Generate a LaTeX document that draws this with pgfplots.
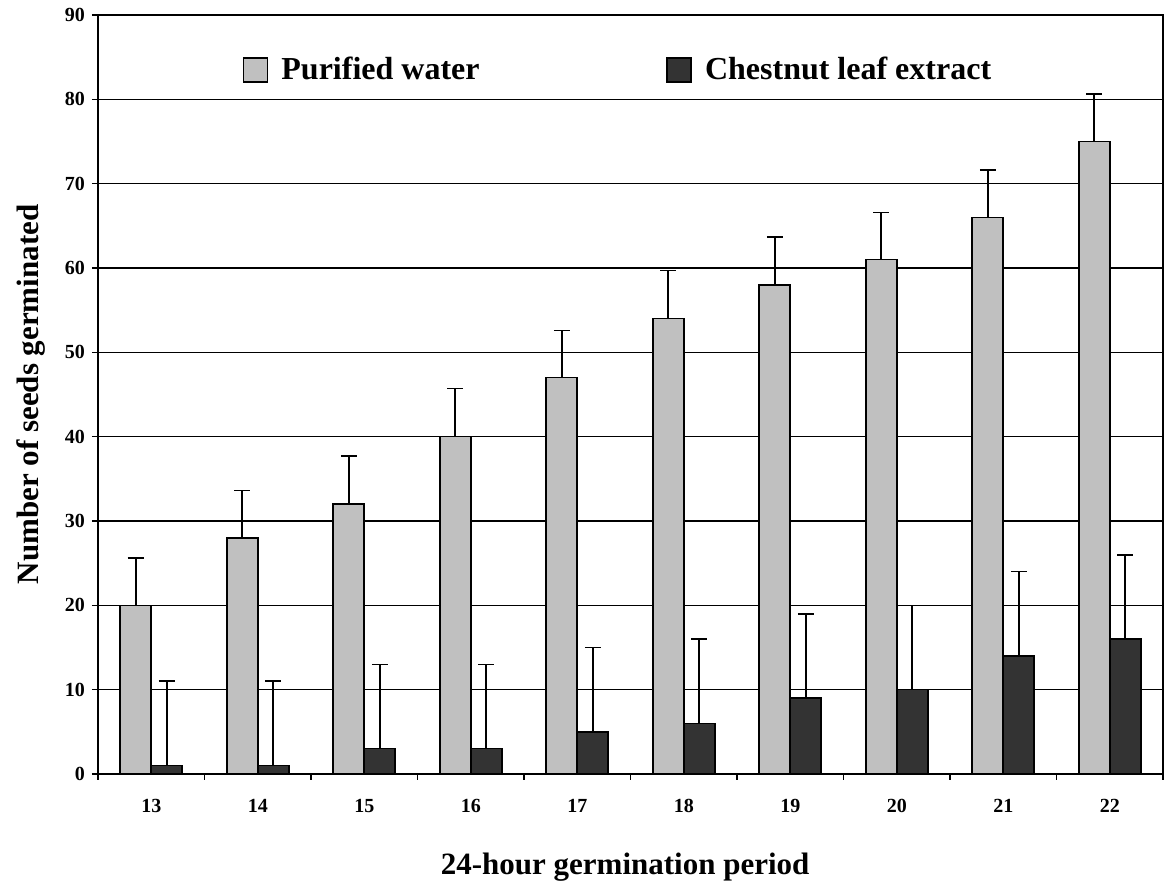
\documentclass[border=0pt]{standalone}
\usepackage{pgfplots}
\pgfplotsset{compat=1.18}
\usepackage{pgfplotstable}
\usepackage{fontspec}
\setmainfont{Liberation Serif}
\definecolor{lightbar}{RGB}{192,192,192}
\definecolor{darkbar}{RGB}{51,51,51}
\pgfplotstableread{
x pw pwe ce cee
0 20 5.6 1 10
1 28 5.6 1 10
2 32 5.7 3 10
3 40 5.7 3 10
4 47 5.6 5 10
5 54 5.7 6 10
6 58 5.7 9 10
7 61 5.6 10 10
8 66 5.6 14 10
9 75 5.6 16 10
}\data
\begin{document}
\begin{tikzpicture}
\begin{axis}[
  name=ax,
  scale only axis, width=532.5pt, height=379.5pt,
  xmin=-0.5, xmax=9.5, ymin=0, ymax=90,
  ybar=0pt, bar width=15.5pt,
  xtick={-0.5,0.5,1.5,2.5,3.5,4.5,5.5,6.5,7.5,8.5,9.5}, xticklabels={},
  extra x ticks={0,1,2,3,4,5,6,7,8,9},
  extra x tick labels={13,14,15,16,17,18,19,20,21,22},
  extra x tick style={major tick length=0pt, grid=none},
  ytick={0,10,20,30,40,50,60,70,80,90},
  xtick pos=bottom, ytick pos=left,
  tick align=outside, major tick length=3pt,
  ymajorgrids, grid style={black, line width=0.7pt},
  axis line style={black, line width=0.9pt},
  tick style={black, line width=0.7pt},
  /pgf/number format/assume math mode=true,
  tick label style={font=\bfseries\fontsize{10}{12}\selectfont},
  xticklabel style={yshift=-9pt},
  xlabel={24-hour germination period},
  xlabel style={at={(axis description cs:0.495,-0.1225)}, anchor=center, font=\bfseries\fontsize{15.5}{18}\selectfont},
  ylabel={Number of seeds germinated},
  ylabel style={at={(axis description cs:-0.063,0.5)}, anchor=center, font=\bfseries\fontsize{15.5}{18}\selectfont},
  legend columns=2,
  legend image code/.code={\draw[#1, draw=black, line width=0.8pt] (0pt,-6pt) rectangle (12pt,6pt);},
  legend style={at={(axis description cs:0.136,0.9275)}, anchor=west, draw=none, fill=none,
    inner sep=0pt, outer sep=0pt, column sep=0pt,
    nodes={inner xsep=6.5pt, inner ysep=0pt, anchor=west},
    font=\bfseries\fontsize{16}{19}\selectfont},
]
\addplot[fill=lightbar, draw=black, line width=0.8pt,
  error bars/.cd, y dir=plus, y explicit,
  error bar style={line width=0.8pt, black},
  error mark options={rotate=90, black, line width=0.8pt, mark size=4pt}]
  table[x=x, y=pw, y error=pwe]{\data};
\addlegendentry{\makebox[186pt][l]{Purified water}}
\addplot[fill=darkbar, draw=black, line width=0.8pt,
  error bars/.cd, y dir=plus, y explicit,
  error bar style={line width=0.8pt, black},
  error mark options={rotate=90, black, line width=0.8pt, mark size=4pt}]
  table[x=x, y=ce, y error=cee]{\data};
\addlegendentry{Chestnut leaf extract}
\end{axis}
\pgfresetboundingbox
\useasboundingbox ([xshift=-49pt,yshift=-56pt]ax.south west) rectangle ([xshift=4pt,yshift=7.5pt]ax.north east);
\end{tikzpicture}
\end{document}
